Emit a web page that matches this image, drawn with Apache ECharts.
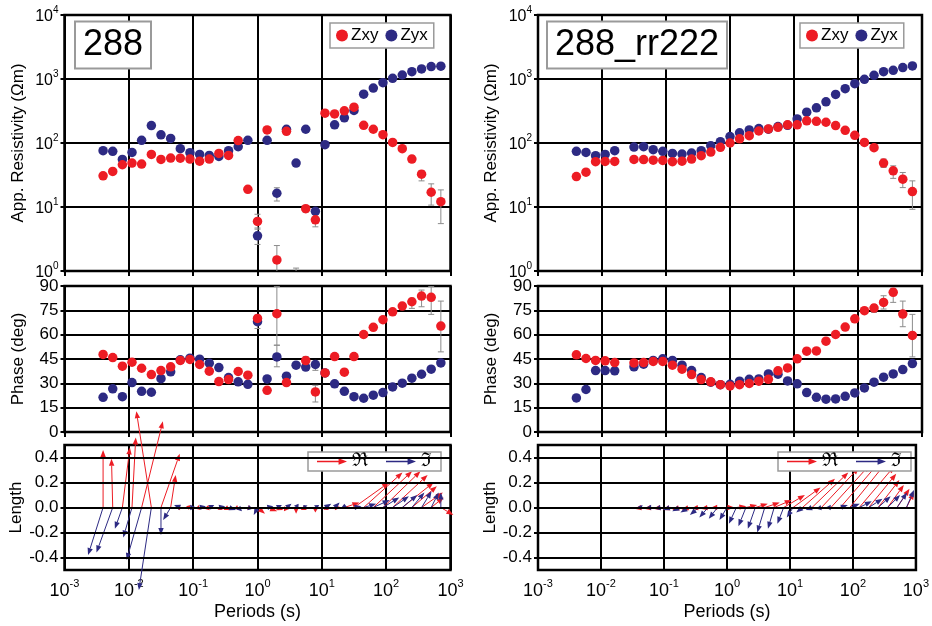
<!DOCTYPE html>
<html>
<head>
<meta charset="utf-8">
<script src="https://cdn.jsdelivr.net/npm/echarts@6/dist/echarts.min.js"></script>
<style>
  html, body { margin: 0; padding: 0; background: #fff; }
  #c { width: 932px; height: 626px; }
</style>
</head>
<body>
<div id="c"></div>
<script>
// Sounding periods (s), shared by both stations
const periods = [0.00398, 0.00562, 0.00794, 0.0112, 0.0158, 0.0224, 0.0316, 0.0447, 0.0631, 0.0891,
  0.126, 0.178, 0.251, 0.355, 0.501, 0.708, 1.0, 1.41, 2.0, 2.82,
  3.98, 5.62, 7.94, 11.2, 15.8, 22.4, 31.6, 44.7, 63.1, 89.1,
  126, 178, 251, 355, 501, 708];

// Tick labels
const periodTicks = [0.001, 0.01, 0.1, 1, 10, 100, 1000];
const rhoTicks = [1, 10, 100, 1000, 10000];
const phaseTicks = [0, 15, 30, 45, 60, 75, 90];
const lengthTicks = [-0.4, -0.2, 0, 0.2, 0.4];

// Station titles
const titles = ['288', '288_rr222'];

// ---- Station 288 (single site) ----
const rhoXyA = [30.7, 35.9, 45.7, 48.5, 46.8, 66.4, 55.3, 58.1, 58, 56,
  52, 56, 68.8, 64, 109, 18.9, 5.96, 160, 1.49, 152,
  0.5, 9.4, 6.3, 292, 285, 318, 363, 189, 164, 135,
  102, 81.5, 56, 32.6, 17, 12.1];
const rhoYxA = [75.8, 74, 55.3, 71.3, 110, 187, 134, 118, 81.5, 70.5,
  66.4, 64, 61.6, 75.8, 87.5, 110, 3.55, 110, 16.4, 164,
  48.5, 164, 8.55, 94, 192, 247, 322, 580, 722, 875,
  1024, 1155, 1303, 1435, 1562, 1583];
const phiXyA = [47.8, 45.9, 40.6, 43, 39.3, 35.4, 37.9, 40.2, 44.1, 44.7,
  41.6, 37.5, 31.1, 32.3, 37.3, 35, 70, 25.7, 72.9, 30.5,
  null, 44, 24.7, 36.4, 46.5, 36.9, 46.5, 60.1, 64.5, 69.2,
  74.1, 77.6, 80.3, 83.8, 83, 65.3];
const phiYxA = [21.4, 26.6, 21.8, 30.5, 25.1, 24.5, 32.9, 37.1, 44.5, 45.5,
  44.9, 42.4, 39.7, 33.6, 30.9, 29.4, 68, 32.7, 46.3, 34.4,
  41.2, 40, 41.6, 36.4, 29.7, 25.1, 21.8, 20.8, 22.7, 24.3,
  27.8, 30.1, 33.2, 35.6, 38.7, 42.6];
// error bars: [period index, lower, upper]
const rhoXyErrA = [[16, 4.5, 7.7], [18, 0.9, 2.5], [20, 0.2, 1.11], [21, 8.3, 10.6], [22, 4.9, 8.2],
  [32, 50, 63], [33, 25.6, 37], [34, 10.7, 23], [35, 5.5, 18.5]];
const rhoYxErrA = [[16, 2.6, 4.7], [18, 12.4, 20], [22, 7.7, 9.4]];
const phiXyErrA = [[15, 33.4, 36.7], [16, 68, 72], [18, 53.5, 89.6], [21, 41.5, 46.5], [22, 18.5, 28.8],
  [32, 76.2, 82.4], [33, 77.2, 87.5], [34, 72.5, 89.6], [35, 49.4, 80.7]];
const phiYxErrA = [[16, 63.8, 71], [18, 40.2, 53.5], [22, 38, 43.7]];
// induction arrows [x component, y component], real and imaginary
const arrReA = [[0, 0.46], [-0.01, 0.39], [0.06, 0.48], [0.03, 0.56], [0.17, 0.69], [-0.12, 0.77], [0.15, 0.43], [0.04, 0.26], [-0.04, 0], [-0.03, 0.01],
  [-0.03, -0.01], [-0.04, -0.01], [0.03, -0.02], [-0.04, -0.02], [-0.03, -0.01], [0.03, -0.01], [0.06, -0.05], [0.08, -0.03], [0.05, -0.02], [-0.02, -0.03],
  [0, -0.05], [-0.04, -0.02], [0, -0.04], [0.03, -0.02], [0.05, 0], [0.12, 0.04], [0.28, 0.2], [0.31, 0.28], [0.31, 0.29], [0.3, 0.29],
  [0.28, 0.26], [0.25, 0.2], [0.2, 0.17], [0.17, 0.12], [0.1, 0.08], [0.1, -0.06]];
const arrImA = [[-0.12, -0.38], [-0.13, -0.36], [-0.06, -0.17], [-0.07, -0.24], [-0.12, -0.42], [-0.1, -0.66], [0, -0.22], [-0.06, -0.1], [-0.05, 0.02], [0.05, 0],
  [0.05, 0.01], [0.04, 0.02], [0.05, 0.01], [0.06, -0.02], [0.03, -0.03], [0.04, -0.01], [-0.03, -0.06], [0.05, 0.01], [0.04, 0.02], [0.04, 0.03],
  [0.02, 0.03], [-0.02, 0.02], [0.03, 0.02], [0.05, 0.03], [0.04, 0.04], [0, 0.03], [0.06, 0.01], [0.1, 0.03], [0.13, 0.06], [0.13, 0.08],
  [0.13, 0.09], [0.12, 0.1], [0.1, 0.12], [0.08, 0.13], [0.06, 0.12], [0, 0.12]];

// ---- Station 288 with remote reference 222 ----
const rhoXyB = [29.9, 35, 51, 51.5, 51.5, null, 55.3, 55, 54, 53.5,
  51, 52, 56, 63.3, 72.2, 85.5, 100, 116, 130, 154,
  166, 176, 192, 192, 222, 218, 211, 187, 158, 132,
  102, 84.5, 48.5, 36.7, 27.2, 17.4];
const rhoYxB = [74, 71.3, 63.3, 66.4, 75.8, null, 86.5, 87.5, 78.6, 74,
  68.8, 67.2, 69.6, 75.8, 90.8, 105, 126, 144, 160, 168,
  164, 181, 189, 238, 303, 355, 440, 574, 705, 845,
  988, 1142, 1303, 1368, 1506, 1600];
const phiXyB = [47.6, 45.3, 44.1, 43.9, 42.8, null, 42.6, 42.8, 43.5, 43.5,
  41.2, 38.7, 35.4, 32.3, 30.9, 29.2, 28.4, 29.2, 29.9, 31.3,
  32.5, 37.7, 39.5, 45.1, 49.8, 50, 56, 60.1, 64.7, 69.8,
  74.8, 76.4, 79.9, 86.1, 72.7, 59.5];
const phiYxB = [21, 26.2, 37.9, 37.9, 37.7, null, 40.2, 41.8, 44.1, 45.1,
  44.1, 41.2, 37.9, 33.6, 30.7, 29.2, 29.4, 31.3, 32.5, 32.7,
  35.8, 35.6, 31.5, 29.7, 24.3, 21.4, 20.2, 20.4, 22, 24.1,
  27.2, 30.7, 33.8, 35.8, 38.5, 42.2];
const rhoXyErrB = [[32, 41.5, 56], [33, 28, 44], [34, 20.1, 34.6], [35, 9.2, 25.6]];
const rhoYxErrB = [];
const phiXyErrB = [[31, 73.7, 78.6], [32, 75.8, 84], [33, 79.9, 88.5], [34, 64.9, 80.7], [35, 46.3, 72.5]];
const phiYxErrB = [];
const arrReB = [null, null, null, null, null, null, null, [-0.06, -0.01], [-0.06, -0.01], [-0.06, -0.01],
  [-0.06, -0.02], [-0.06, -0.02], [-0.06, -0.02], [-0.06, -0.01], [-0.06, -0.01], [-0.05, 0], [0.06, 0], [0.08, 0.01], [0.09, 0.02], [0.1, 0.03],
  [0.12, 0.04], [0.14, 0.06], [0.17, 0.1], [0.22, 0.16], [0.26, 0.23], [0.29, 0.28], [0.3, 0.32], [0.31, 0.34], [0.31, 0.36], [0.3, 0.37],
  [0.28, 0.33], [0.22, 0.27], [0.17, 0.22], [0.13, 0.18], [0.1, 0.15], [0.06, 0.12]];
const arrImB = [null, null, null, null, null, null, null, [-0.03, 0.01], [-0.04, 0], [-0.05, -0.01],
  [-0.06, -0.02], [-0.06, -0.03], [-0.07, -0.04], [-0.07, -0.06], [-0.07, -0.08], [-0.07, -0.09], [-0.06, -0.1], [-0.06, -0.13], [-0.06, -0.15], [-0.06, -0.17],
  [-0.06, -0.2], [-0.05, -0.17], [-0.05, -0.13], [-0.05, -0.08], [-0.05, -0.04], [-0.05, -0.02], [-0.04, -0.01], [-0.04, 0], [0.06, 0.02], [0.08, 0.03],
  [0.1, 0.05], [0.11, 0.07], [0.1, 0.09], [0.1, 0.1], [0.08, 0.12], [0.06, 0.14]];

const stations = [
  { rhoXy: rhoXyA, rhoYx: rhoYxA, phiXy: phiXyA, phiYx: phiYxA,
    rhoXyErr: rhoXyErrA, rhoYxErr: rhoYxErrA, phiXyErr: phiXyErrA, phiYxErr: phiYxErrA,
    re: arrReA, im: arrImA },
  { rhoXy: rhoXyB, rhoYx: rhoYxB, phiXy: phiXyB, phiYx: phiYxB,
    rhoXyErr: rhoXyErrB, rhoYxErr: rhoYxErrB, phiXyErr: phiXyErrB, phiYxErr: phiYxErrB,
    re: arrReB, im: arrImB }
];

// ---- styling ----
const FONT = '"Liberation Sans", Arial, sans-serif';
const RED = '#ed1c24';
const BLUE = '#2d2a83';
const ERR = '#8c8c8c';
const ARROW_ICON = 'path://M0,4.3 L23,4.3 L23,1.5 L32,5 L23,8.5 L23,5.7 L0,5.7 Z';

const cols = [{ left: 64.5, width: 386 }, { left: 538, width: 384 }];
const rows = [{ top: 15, height: 256 }, { top: 286, height: 146 }, { top: 445, height: 125 }];

const toPoints = vals => periods.map((p, i) => vals[i] == null ? null : [p, vals[i]]).filter(Boolean);
const toErrs = list => list.map(([i, lo, hi]) => [periods[i], lo, hi]);
const toArrows = vecs => periods.map((p, i) => vecs[i] ? [p, vecs[i][0], vecs[i][1]] : null).filter(Boolean);

const supLabel = v => '{b|10}{s|' + Math.round(Math.log10(v)) + '}';
const supRich = size => ({
  b: { fontSize: size, fontFamily: FONT, color: '#000', lineHeight: size + 4, verticalAlign: 'bottom' },
  s: { fontSize: Math.round(size * 0.62), fontFamily: FONT, color: '#000', verticalAlign: 'top', lineHeight: size + 4 }
});

function errorBar(params, api) {
  const x = api.value(0);
  const a = api.coord([x, api.value(1)]);
  const b = api.coord([x, api.value(2)]);
  const st = { stroke: ERR, lineWidth: 1 };
  const cap = 3;
  return {
    type: 'group',
    children: [
      { type: 'line', shape: { x1: a[0], y1: a[1], x2: b[0], y2: b[1] }, style: st },
      { type: 'line', shape: { x1: a[0] - cap, y1: a[1], x2: a[0] + cap, y2: a[1] }, style: st },
      { type: 'line', shape: { x1: b[0] - cap, y1: b[1], x2: b[0] + cap, y2: b[1] }, style: st }
    ]
  };
}

// Arrow from (period, 0), components scaled with the Length axis in both directions
function arrowRenderer(color) {
  return function (params, api) {
    const x = api.value(0);
    const s = api.coord([x, 0]);
    const unit = s[1] - api.coord([x, 1])[1];
    const e = [s[0] + api.value(1) * unit, s[1] - api.value(2) * unit];
    const dx = e[0] - s[0], dy = e[1] - s[1];
    const L = Math.hypot(dx, dy) || 1;
    const ux = dx / L, uy = dy / L;
    const hl = Math.min(7, L * 0.95), hw = 2.7;
    const b = [e[0] - ux * hl, e[1] - uy * hl];
    return {
      type: 'group',
      children: [
        { type: 'line', shape: { x1: s[0], y1: s[1], x2: b[0], y2: b[1] }, style: { stroke: color, lineWidth: 1 } },
        { type: 'polygon', shape: { points: [e, [b[0] - uy * hw, b[1] + ux * hw], [b[0] + uy * hw, b[1] - ux * hw]] }, style: { fill: color } }
      ]
    };
  };
}

const grid = [], xAxis = [], yAxis = [], series = [];
const axisTick = { show: true, inside: false, length: 5, lineStyle: { color: '#000', width: 2 } };
const splitLine = { show: true, lineStyle: { color: '#000', width: 2 } };
const nameStyle = { fontSize: 17, fontFamily: FONT, color: '#000' };

cols.forEach((c, ci) => {
  rows.forEach((r, ri) => {
    const g = ci * 3 + ri;
    grid.push({ left: c.left, top: r.top, width: c.width, height: r.height, show: true,
      borderColor: '#000', borderWidth: 2.5, backgroundColor: 'transparent' });
    xAxis.push({
      type: 'log', logBase: 10, gridIndex: g, min: periodTicks[0], max: periodTicks[periodTicks.length - 1],
      splitNumber: periodTicks.length - 1,
      axisLine: { show: false }, axisTick, splitLine,
      axisLabel: ri === 2 ? { show: true, margin: 8, formatter: supLabel, rich: supRich(18) } : { show: false },
      name: ri === 2 ? 'Periods (s)' : '', nameLocation: 'middle', nameGap: 33,
      nameTextStyle: { fontSize: 18, fontFamily: FONT, color: '#000' }
    });
    if (ri === 0) {
      yAxis.push({ type: 'log', logBase: 10, gridIndex: g, min: rhoTicks[0], max: rhoTicks[rhoTicks.length - 1],
        splitNumber: rhoTicks.length - 1, axisLine: { show: false }, axisTick: { ...axisTick, length: 4 }, splitLine,
        axisLabel: { margin: 6, formatter: supLabel, rich: supRich(16) },
        name: 'App. Resistivity (Ωm)', nameLocation: 'middle', nameGap: 38, nameTextStyle: nameStyle });
    } else if (ri === 1) {
      yAxis.push({ type: 'value', gridIndex: g, min: phaseTicks[0], max: phaseTicks[phaseTicks.length - 1],
        interval: phaseTicks[1] - phaseTicks[0], axisLine: { show: false }, axisTick: { ...axisTick, length: 4 }, splitLine,
        axisLabel: { margin: 6, fontSize: 17, fontFamily: FONT, color: '#000' },
        name: 'Phase (deg)', nameLocation: 'middle', nameGap: 38, nameTextStyle: nameStyle });
    } else {
      yAxis.push({ type: 'value', gridIndex: g, min: -0.5, max: 0.5, interval: 0.1,
        axisLine: { show: false },
        axisTick: { ...axisTick, length: 4, customValues: lengthTicks },
        splitLine: { show: false },
        axisLabel: { margin: 6, fontSize: 17, fontFamily: FONT, color: '#000', customValues: lengthTicks,
          formatter: v => (Math.abs(Math.round(v * 10)) % 2 === 0 && Math.abs(v) < 0.45) ? v.toFixed(1) : '' },
        name: 'Length', nameLocation: 'middle', nameGap: 38, nameTextStyle: nameStyle });
    }
  });

  const st = stations[ci];
  const gRho = ci * 3, gPhi = ci * 3 + 1, gLen = ci * 3 + 2;
  const errSeries = (g, list) => ({ type: 'custom', xAxisIndex: g, yAxisIndex: g, renderItem: errorBar,
    data: toErrs(list), clip: true, silent: true, z: 2, encode: { x: 0, y: [1, 2] } });
  const dots = (g, name, color, vals) => ({ type: 'scatter', name, xAxisIndex: g, yAxisIndex: g,
    data: toPoints(vals), symbolSize: 9.5, itemStyle: { color, opacity: 1 }, clip: true, z: 3, silent: true });

  series.push(errSeries(gRho, st.rhoXyErr), errSeries(gRho, st.rhoYxErr),
    errSeries(gPhi, st.phiXyErr), errSeries(gPhi, st.phiYxErr));
  series.push(dots(gRho, 'Zyx', BLUE, st.rhoYx), dots(gRho, 'Zxy', RED, st.rhoXy));
  series.push(dots(gPhi, 'Zyx', BLUE, st.phiYx), dots(gPhi, 'Zxy', RED, st.phiXy));

  // horizontal grid lines of the Length panel
  series.push({ type: 'line', xAxisIndex: gLen, yAxisIndex: gLen, data: [], silent: true, z: 1,
    markLine: { silent: true, symbol: 'none', animation: false, label: { show: false },
      emphasis: { disabled: true },
      lineStyle: { color: '#000', width: 2, type: 'solid' },
      data: lengthTicks.map(v => ({ yAxis: v })) } });

  series.push({ type: 'custom', name: 'ℜ', xAxisIndex: gLen, yAxisIndex: gLen, renderItem: arrowRenderer(RED),
    data: toArrows(st.re), clip: false, silent: true, z: 3, itemStyle: { color: RED }, encode: { x: 0, y: 2 } });
  series.push({ type: 'custom', name: 'ℑ', xAxisIndex: gLen, yAxisIndex: gLen, renderItem: arrowRenderer(BLUE),
    data: toArrows(st.im), clip: false, silent: true, z: 3, itemStyle: { color: BLUE }, encode: { x: 0, y: 2 } });
});

const dotLegend = left => ({
  left, top: 23, orient: 'horizontal', itemWidth: 12, itemHeight: 12, itemGap: 7,
  padding: [4, 6, 4, 6], backgroundColor: '#fff', borderColor: '#9a9a9a', borderWidth: 1.5,
  selectedMode: false, textStyle: { fontSize: 17, fontFamily: FONT, color: '#000', padding: [0, 0, 0, -2] },
  data: [{ name: 'Zxy', icon: 'circle' }, { name: 'Zyx', icon: 'circle' }]
});
const arrowLegend = left => ({
  left, top: 452, orient: 'horizontal', itemWidth: 30, itemHeight: 8, itemGap: 18,
  padding: [0, 9, 0, 9], backgroundColor: '#fff', borderColor: '#9a9a9a', borderWidth: 1.5,
  selectedMode: false, textStyle: { fontSize: 19, fontFamily: '"DejaVu Serif", serif', color: '#000', lineHeight: 19 },
  data: [{ name: 'ℜ', icon: ARROW_ICON }, { name: 'ℑ', icon: ARROW_ICON }]
});

const titleBox = (text, left) => ({
  text, left, top: 21.5, padding: [5, 8, 5, 8], backgroundColor: '#fff',
  borderColor: '#9a9a9a', borderWidth: 2,
  textStyle: { fontSize: 36, fontWeight: 'normal', fontFamily: FONT, color: '#000', lineHeight: 37 }
});

const chart = echarts.init(document.getElementById('c'), null, { renderer: 'canvas' });
chart.setOption({
  animation: false,
  backgroundColor: '#fff',
  title: [titleBox(titles[0], 75), titleBox(titles[1], 547)],
  legend: [dotLegend(330), dotLegend(800), arrowLegend(308), arrowLegend(778)],
  grid, xAxis, yAxis, series
});
</script>
</body>
</html>
